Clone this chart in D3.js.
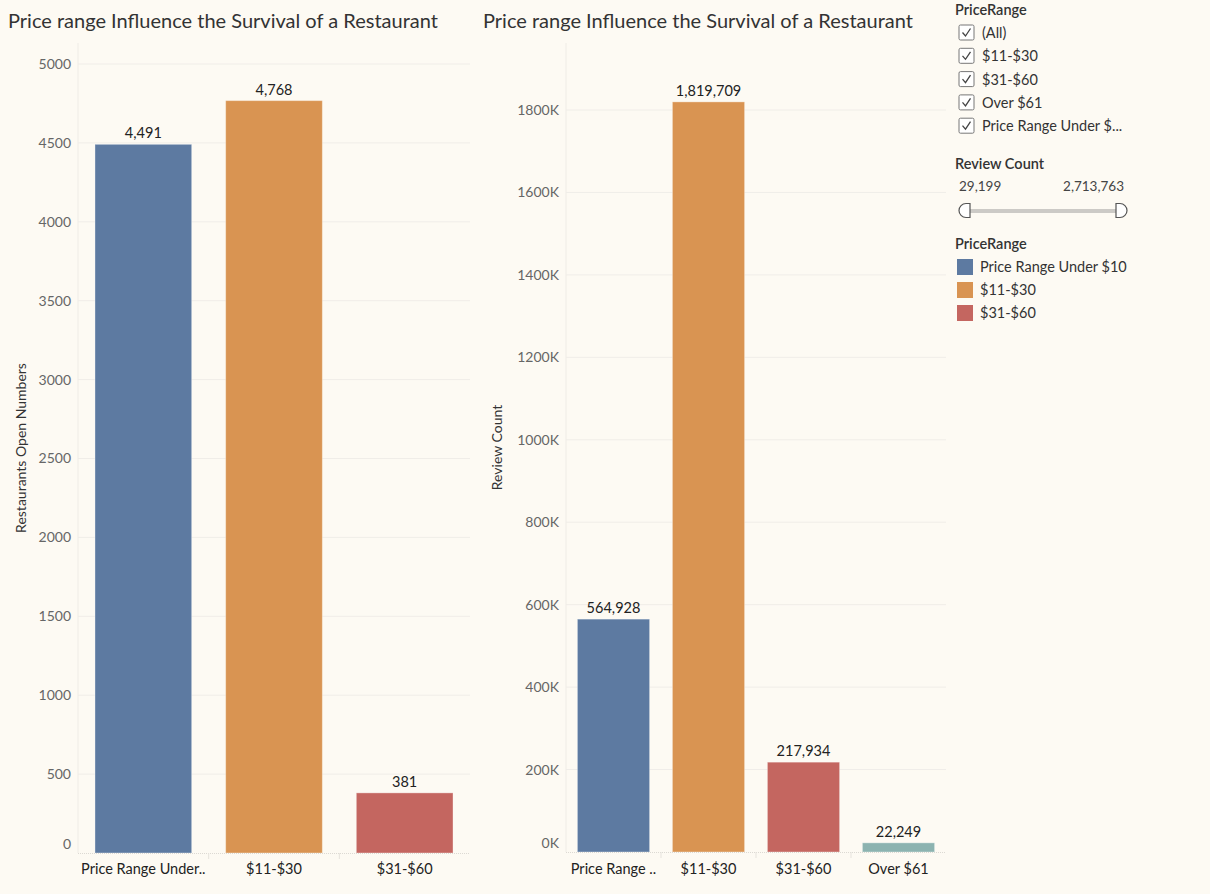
<!DOCTYPE html>
<html>
<head>
<meta charset="utf-8">
<script src="https://cdn.jsdelivr.net/npm/d3@7"></script>
<style>
	body { margin: 0; background: #fdfaf3; }
	svg { display: block; font-family: Lato, "Open Sans", sans-serif; }
</style>
</head>
<body>
<svg id="chart" width="1210" height="894"></svg>
<script>
// data
const openCategories = ["Price Range Under..", "$11-$30", "$31-$60"];
const openValues = [4491, 4768, 381];
const openTicks = [0, 500, 1000, 1500, 2000, 2500, 3000, 3500, 4000, 4500, 5000];

const reviewCategories = ["Price Range ..", "$11-$30", "$31-$60", "Over $61"];
const reviewValues = [564928, 1819709, 217934, 22249];
const reviewTicks = [0, 200000, 400000, 600000, 800000, 1000000, 1200000, 1400000, 1600000, 1800000];

const filterItems = ["(All)", "$11-$30", "$31-$60", "Over $61", "Price Range Under $..."];
const sliderRange = [29199, 2713763];
const legendItems = ["Price Range Under $10", "$11-$30", "$31-$60"];

const palette = ["#5d7aa1", "#d99452", "#c46660", "#8cb3b0"];
const chartTitle = "Price range Influence the Survival of a Restaurant";

var svg = d3.select("#chart");
var fmt = d3.format(",");

var drawBarChart = (opts) => {
	var g = svg.append("g");

	// title
	g.append("text")
		.attr("x", opts.left - opts.titleOffset)
		.attr("y", 28)
		.attr("font-size", 20)
		.attr("fill", "#333")
		.text(chartTitle);

	let x = d3
		.scaleBand()
		.domain(opts.categories)
		.range([opts.left, opts.right])
		.paddingInner(opts.pad)
		.paddingOuter(opts.pad / 2);

	let y = d3
		.scaleLinear()
		.domain([0, opts.topTick])
		.range([opts.bottom, opts.topY]);

	// faint left edge of pane
	g.append("line")
		.attr("x1", opts.left).attr("x2", opts.left)
		.attr("y1", 43).attr("y2", opts.bottom)
		.attr("stroke", "#efece6");

	// gridlines
	g.append("g")
		.selectAll("line")
		.data(opts.ticks.filter((t) => t > 0))
		.join("line")
		.attr("x1", opts.left)
		.attr("x2", opts.right)
		.attr("y1", (d) => y(d))
		.attr("y2", (d) => y(d))
		.attr("stroke", "#f0ede8");

	// y axis labels
	let yAxis = d3
		.axisLeft(y)
		.tickValues(opts.ticks)
		.tickSize(0)
		.tickPadding(7)
		.tickFormat(opts.tickFormat);
	g.append("g")
		.attr("transform", `translate(${opts.left},0)`)
		.call(yAxis)
		.call((a) => a.select(".domain").remove())
		.call((a) =>
			a.selectAll("text")
				.attr("font-family", "Lato, 'Open Sans', sans-serif")
				.attr("font-size", 14)
				.attr("fill", "#666")
		)
		// the zero label sits a little above the baseline
		.call((a) => a.select(".tick:first-of-type text").attr("y", -9));

	// axis title
	g.append("text")
		.attr("transform", `translate(${opts.titleX},${(opts.bottom + 43) / 2}) rotate(-90)`)
		.attr("text-anchor", "middle")
		.attr("dy", "0.35em")
		.attr("font-size", 14)
		.attr("fill", "#333")
		.text(opts.yTitle);

	// bars
	g.append("g")
		.selectAll("rect")
		.data(opts.values)
		.join("rect")
		.attr("x", (d, i) => x(opts.categories[i]))
		.attr("width", x.bandwidth())
		.attr("y", (d) => y(d))
		.attr("height", (d) => opts.bottom - y(d))
		.attr("fill", (d, i) => palette[i])
		.attr("stroke", "#fff")
		.attr("stroke-opacity", 0.35)
		.attr("stroke-width", 1);

	// value labels
	g.append("g")
		.selectAll("text")
		.data(opts.values)
		.join("text")
		.attr("x", (d, i) => x(opts.categories[i]) + x.bandwidth() / 2)
		.attr("y", (d) => y(d) - 6)
		.attr("text-anchor", "middle")
		.attr("font-size", 14.5)
		.attr("fill", "#222")
		.text((d) => fmt(d));

	// baseline (dotted)
	g.append("line")
		.attr("x1", opts.left).attr("x2", opts.right)
		.attr("y1", opts.bottom + 0.5).attr("y2", opts.bottom + 0.5)
		.attr("stroke", "#dcd9d3")
		.attr("stroke-dasharray", "1 1");

	// band dividers below the axis
	var step = x.step();
	g.append("g")
		.selectAll("line")
		.data(opts.categories.slice(1))
		.join("line")
		.attr("x1", (d) => x(d) - (step * opts.pad) / 2)
		.attr("x2", (d) => x(d) - (step * opts.pad) / 2)
		.attr("y1", opts.bottom)
		.attr("y2", opts.bottom + 6)
		.attr("stroke", "#e6e3dd");

	// x labels
	g.append("g")
		.selectAll("text")
		.data(opts.categories)
		.join("text")
		.attr("x", (d) => x(d) + x.bandwidth() / 2)
		.attr("y", 874)
		.attr("text-anchor", "middle")
		.attr("font-size", 14.5)
		.attr("fill", "#222")
		.text((d) => d);
};

drawBarChart({
	categories: openCategories,
	values: openValues,
	ticks: openTicks,
	topTick: 5000,
	topY: 64,
	left: 78,
	right: 470,
	bottom: 853,
	pad: 0.26,
	titleOffset: 70,
	titleX: 21,
	yTitle: "Restaurants Open Numbers",
	tickFormat: (d) => d,
});

drawBarChart({
	categories: reviewCategories,
	values: reviewValues,
	ticks: reviewTicks,
	topTick: 1800000,
	topY: 110,
	left: 566,
	right: 946,
	bottom: 852,
	pad: 0.24,
	titleOffset: 83,
	titleX: 497,
	yTitle: "Review Count",
	tickFormat: (d) => d / 1000 + "K",
});

// ---- side panel: filter, slider, colour legend ----
var side = svg.append("g");

side.append("text")
	.attr("x", 955).attr("y", 15)
	.attr("font-size", 14.5).attr("font-weight", 600).attr("fill", "#333")
	.text("PriceRange");

var rows = side.selectAll(".filter")
	.data(filterItems)
	.join("g")
	.attr("class", "filter")
	.attr("transform", (d, i) => `translate(959,${25 + i * 23.3})`);
rows.append("rect")
	.attr("width", 15).attr("height", 15).attr("rx", 1.5)
	.attr("fill", "#fff").attr("stroke", "#777");
rows.append("path")
	.attr("d", "M3.5,7.5 L6.5,11 L11.5,3.5")
	.attr("fill", "none").attr("stroke", "#444").attr("stroke-width", 1.3);
rows.append("text")
	.attr("x", 23).attr("y", 13)
	.attr("font-size", 14.5).attr("fill", "#333")
	.text((d) => d);

side.append("text")
	.attr("x", 955).attr("y", 169)
	.attr("font-size", 14.5).attr("font-weight", 600).attr("fill", "#333")
	.text("Review Count");

side.append("text")
	.attr("x", 959).attr("y", 191)
	.attr("font-size", 13.5).attr("fill", "#444")
	.text(fmt(sliderRange[0]));
side.append("text")
	.attr("x", 1124).attr("y", 191)
	.attr("text-anchor", "end")
	.attr("font-size", 13.5).attr("fill", "#444")
	.text(fmt(sliderRange[1]));

side.append("line")
	.attr("x1", 966).attr("x2", 1118)
	.attr("y1", 211).attr("y2", 211)
	.attr("stroke", "#cccac6").attr("stroke-width", 4);
side.append("path")
	.attr("d", "M970,203.5 L966,203.5 A7,7 0 0 0 966,217.5 L970,217.5 Z")
	.attr("fill", "#fff").attr("stroke", "#555").attr("stroke-width", 1.2);
side.append("path")
	.attr("d", "M1116,203.5 L1120,203.5 A7,7 0 0 1 1120,217.5 L1116,217.5 Z")
	.attr("fill", "#fff").attr("stroke", "#555").attr("stroke-width", 1.2);

side.append("text")
	.attr("x", 955).attr("y", 249)
	.attr("font-size", 14.5).attr("font-weight", 600).attr("fill", "#333")
	.text("PriceRange");

var keys = side.selectAll(".key")
	.data(legendItems)
	.join("g")
	.attr("class", "key")
	.attr("transform", (d, i) => `translate(957,${259 + i * 23})`);
keys.append("rect")
	.attr("width", 16).attr("height", 16)
	.attr("fill", (d, i) => palette[i]);
keys.append("text")
	.attr("x", 23).attr("y", 13)
	.attr("font-size", 14.5).attr("fill", "#333")
	.text((d) => d);
</script>
</body>
</html>
